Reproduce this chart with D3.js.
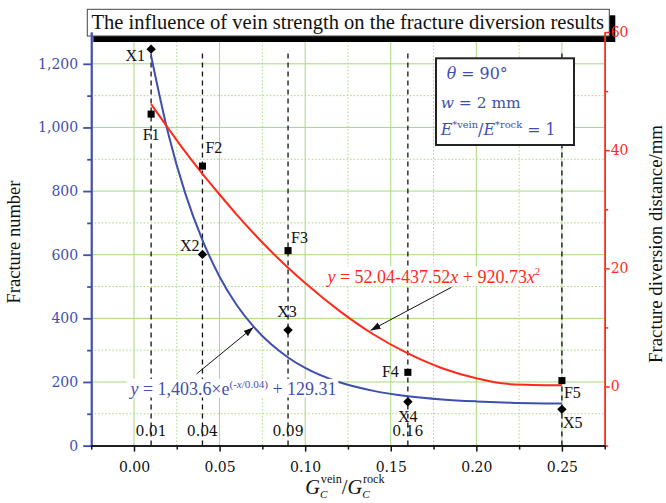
<!DOCTYPE html>
<html>
<head>
<meta charset="utf-8">
<script src="https://cdn.jsdelivr.net/npm/d3@7"></script>
<style>
  body { margin: 0; background: #fff; }
  svg { display: block; }
</style>
</head>
<body>
<script>
// ---- data ----
const xTicks = [0, 0.05, 0.10, 0.15, 0.20, 0.25];
const xMinor = [-0.025, 0.025, 0.075, 0.125, 0.175, 0.225, 0.275];
const yLeftTicks = [0, 200, 400, 600, 800, 1000, 1200];
const yLeftMinor = [100, 300, 500, 700, 900, 1100];
const yRightTicks = [0, 20, 40, 60];
const yRightMinor = [-10, 10, 30, 50];

const ratio = [0.01, 0.04, 0.09, 0.16, 0.25];
const ratioLabels = ['0.01', '0.04', '0.09', '0.16', ''];
const fracNames = ['X1', 'X2', 'X3', 'X4', 'X5'];
const fracNumber = [1246, 601, 363, 138, 114];
const divNames = ['F1', 'F2', 'F3', 'F4', 'F5'];
const divDistance = [46.1, 37.3, 23.0, 2.4, 1.0];

// fitted curves
const fitX = [0.01, 0.02, 0.03, 0.04, 0.05, 0.06, 0.07, 0.08, 0.09, 0.10, 0.12, 0.14, 0.16, 0.18, 0.20, 0.22, 0.25];
const fitNumber = [1225, 981, 792, 646, 531, 442, 373, 319, 277, 244, 199, 172, 155, 145, 139, 135, 132];
const fitDistance = [47.8, 43.7, 39.7, 36.0, 32.5, 29.1, 25.9, 22.9, 20.1, 17.5, 12.8, 8.8, 5.6, 3.1, 1.4, 0.4, 0.2];

const BLUE = '#3f4fb0';
const RED = '#ff2a1a';
const GREEN = '#a6d97c';
const SERIF = '"Liberation Serif", "Times New Roman", serif';
const NUMF = '"DejaVu Serif", serif';

const width = 666, height = 503;

let svg = d3.select('body')
  .append('svg')
  .attr('width', width)
  .attr('height', height)
  .style('font-family', NUMF);

let x = d3.scaleLinear().domain([-0.025, 0.275]).range([91.2, 604.7]);
let yL = d3.scaleLinear().domain([0, 1300]).range([445.6, 32]);
let yR = d3.scaleLinear().domain([-10, 60]).range([445.6, 32]);

function fit(t, w) {
  let fs = parseFloat(t.attr('font-size'));
  let bw = t.node().getBBox().width;
  t.attr('font-size', (fs * w / bw).toFixed(2));
}

// grid
let grid = svg.append('g');
grid.selectAll('line.gx').data(xTicks).join('line').attr('class', 'gx')
  .attr('x1', d => x(d)).attr('x2', d => x(d))
  .attr('y1', yL(0)).attr('y2', yL(1300))
  .attr('stroke', GREEN).attr('stroke-width', 1);
grid.selectAll('line.gxm').data(xMinor.slice(1, -1)).join('line').attr('class', 'gxm')
  .attr('x1', d => x(d)).attr('x2', d => x(d))
  .attr('y1', yL(0)).attr('y2', yL(1300))
  .attr('stroke', GREEN).attr('stroke-width', 1).attr('stroke-dasharray', '1.5,2');
grid.selectAll('line.gy').data(yLeftTicks.slice(1)).join('line').attr('class', 'gy')
  .attr('x1', x(-0.025)).attr('x2', x(0.275))
  .attr('y1', d => yL(d)).attr('y2', d => yL(d))
  .attr('stroke', GREEN).attr('stroke-width', 1);
grid.selectAll('line.gym').data(yLeftMinor).join('line').attr('class', 'gym')
  .attr('x1', x(-0.025)).attr('x2', x(0.275))
  .attr('y1', d => yL(d)).attr('y2', d => yL(d))
  .attr('stroke', GREEN).attr('stroke-width', 1).attr('stroke-dasharray', '1.5,2');

// dashed guides at the tested ratios
svg.selectAll('line.guide').data(ratio).join('line').attr('class', 'guide')
  .attr('x1', d => x(d)).attr('x2', d => x(d))
  .attr('y1', yL(0)).attr('y2', yL(1245))
  .attr('stroke', '#111').attr('stroke-width', 1.3).attr('stroke-dasharray', '5,4');
svg.selectAll('text.guide').data(ratio).join('text').attr('class', 'guide')
  .attr('x', d => x(d)).attr('y', yL(0) - 9.5)
  .attr('text-anchor', 'middle').attr('font-size', 14).attr('fill', '#111')
  .text((d, i) => ratioLabels[i]);

// fitted curves
let blueLine = d3.line().x((d, i) => x(fitX[i])).y(d => yL(d)).curve(d3.curveMonotoneX);
let redLine = d3.line().x((d, i) => x(fitX[i])).y(d => yR(d)).curve(d3.curveMonotoneX);
svg.append('path').attr('d', blueLine(fitNumber))
  .attr('fill', 'none').attr('stroke', BLUE).attr('stroke-width', 2);
svg.append('path').attr('d', redLine(fitDistance))
  .attr('fill', 'none').attr('stroke', RED).attr('stroke-width', 2);

// markers
svg.selectAll('path.sq').data(divDistance).join('path').attr('class', 'sq')
  .attr('d', d3.symbol(d3.symbolSquare, 50))
  .attr('transform', (d, i) => `translate(${x(ratio[i])},${yR(d)})`)
  .attr('fill', '#000');
svg.selectAll('path.dm').data(fracNumber).join('path').attr('class', 'dm')
  .attr('d', d3.symbol(d3.symbolSquare, 44))
  .attr('transform', (d, i) => `translate(${x(ratio[i])},${yL(d)}) rotate(45)`)
  .attr('fill', '#000');

// point labels
const fracLab = [
  { dx: -6, dy: 11.5, a: 'end' }, { dx: -3, dy: -3, a: 'end' }, { dx: -1, dy: -13, a: 'middle' },
  { dx: 0, dy: 20, a: 'middle' }, { dx: 1, dy: 18.5, a: 'start' }
];
const divLab = [
  { dx: 0, dy: 26, a: 'middle' }, { dx: 3, dy: -13, a: 'start' }, { dx: 3, dy: -8, a: 'start' },
  { dx: -9, dy: 4.5, a: 'end' }, { dx: 2, dy: 17.5, a: 'start' }
];
svg.selectAll('text.xl').data(fracNumber).join('text').attr('class', 'xl')
  .attr('x', (d, i) => x(ratio[i]) + fracLab[i].dx)
  .attr('y', (d, i) => yL(d) + fracLab[i].dy)
  .attr('text-anchor', (d, i) => fracLab[i].a)
  .attr('font-family', SERIF).attr('font-size', 16).attr('fill', '#111')
  .text((d, i) => fracNames[i]);
svg.selectAll('text.fl').data(divDistance).join('text').attr('class', 'fl')
  .attr('x', (d, i) => x(ratio[i]) + divLab[i].dx)
  .attr('y', (d, i) => yR(d) + divLab[i].dy)
  .attr('text-anchor', (d, i) => divLab[i].a)
  .attr('font-family', SERIF).attr('font-size', 16).attr('fill', '#111')
  .text((d, i) => divNames[i]);

// equations with arrows
let defs = svg.append('defs');
defs.append('marker').attr('id', 'ah').attr('viewBox', '0 0 10 10')
  .attr('refX', 10).attr('refY', 5).attr('markerWidth', 10).attr('markerHeight', 10)
  .attr('markerUnits', 'userSpaceOnUse').attr('orient', 'auto')
  .append('path').attr('d', 'M0,1.5L10,5L0,8.5Z').attr('fill', '#111');

function eqText(px, py, color, w, build) {
  let g = svg.append('g');
  let t = g.append('text').attr('x', px).attr('y', py)
    .attr('font-family', SERIF).attr('font-size', 17).attr('fill', color);
  build(t);
  fit(t, w);
  let b = t.node().getBBox();
  g.insert('rect', 'text').attr('x', b.x - 2).attr('y', b.y + 1)
    .attr('width', b.width + 4).attr('height', b.height - 2).attr('fill', '#fff');
}

svg.append('line')
  .attr('x1', x(0.1855)).attr('y1', yR(16.8)).attr('x2', x(0.1382)).attr('y2', yR(9.5))
  .attr('stroke', '#111').attr('stroke-width', 1).attr('marker-end', 'url(#ah)');
eqText(x(0.113), yR(17.5), RED, 215, t => {
  t.append('tspan').attr('font-style', 'italic').text('y');
  t.append('tspan').text(' = 52.04-437.52');
  t.append('tspan').attr('font-style', 'italic').text('x');
  t.append('tspan').text(' + 920.73');
  t.append('tspan').attr('font-style', 'italic').text('x');
  t.append('tspan').attr('font-size', '0.6em').attr('baseline-shift', '70%').text('2');
});

svg.append('line')
  .attr('x1', x(0.0365)).attr('y1', yL(225)).attr('x2', x(0.0698)).attr('y2', yL(372))
  .attr('stroke', '#111').attr('stroke-width', 1).attr('marker-end', 'url(#ah)');
eqText(x(-0.002), yL(160.6), BLUE, 208, t => {
  t.append('tspan').attr('font-style', 'italic').text('y');
  t.append('tspan').text(' = 1,403.6×e');
  let s = t.append('tspan').attr('font-size', '0.62em').attr('baseline-shift', '60%');
  s.append('tspan').text('(-');
  s.append('tspan').attr('font-style', 'italic').text('x');
  s.append('tspan').text('/0.04)');
  t.append('tspan').text(' + 129.31');
});

// title box
svg.append('rect').attr('x', 93.3).attr('y', 15.3).attr('width', 522).attr('height', 26.7).attr('fill', '#000');
svg.append('rect').attr('x', 87.3).attr('y', 9.3).attr('width', 522).attr('height', 26.7)
  .attr('fill', '#fff').attr('stroke', '#444').attr('stroke-width', 1);
let title = svg.append('text').attr('x', 91.5).attr('y', 29.3)
  .attr('font-family', SERIF).attr('font-size', 20).attr('fill', '#111')
  .text('The influence of vein strength on the fracture diversion results');
fit(title, 513);

// axes
function styleAxis(g, color, sw) {
  g.selectAll('path, line').attr('stroke', color).attr('stroke-width', sw);
  g.selectAll('text').attr('fill', color).attr('font-size', 14).attr('font-family', NUMF);
}
let axL = svg.append('g').attr('transform', `translate(${x(-0.025)},0)`);
axL.append('g').call(d3.axisLeft(yL).tickValues(yLeftMinor).tickSize(4).tickFormat('').tickSizeOuter(0));
axL.append('g').call(d3.axisLeft(yL).tickValues(yLeftTicks).tickSize(8).tickPadding(5)
  .tickFormat(d3.format(',')).tickSizeOuter(0));
styleAxis(axL, BLUE, 1.8);

let axR = svg.append('g').attr('transform', `translate(${x(0.275)},0)`);
axR.append('g').call(d3.axisRight(yR).tickValues(yRightMinor).tickSize(3.5).tickFormat('').tickSizeOuter(0));
axR.append('g').call(d3.axisRight(yR).tickValues(yRightTicks).tickSize(5).tickPadding(1).tickSizeOuter(0));
styleAxis(axR, RED, 1.5);

let axB = svg.append('g').attr('transform', `translate(0,${yL(0)})`);
axB.append('g').call(d3.axisBottom(x).tickValues(xMinor).tickSize(4).tickFormat('').tickSizeOuter(0));
axB.append('g').call(d3.axisBottom(x).tickValues(xTicks).tickSize(6).tickPadding(10)
  .tickFormat(d3.format('.2f')).tickSizeOuter(0));
styleAxis(axB, '#111', 1.5);

// axis titles
let tl = svg.append('text').attr('transform', 'translate(20,242) rotate(-90)')
  .attr('text-anchor', 'middle').attr('font-family', SERIF).attr('font-size', 18).attr('fill', '#111')
  .text('Fracture number');
fit(tl, 123);
let tr = svg.append('text').attr('transform', 'translate(662,244) rotate(-90)')
  .attr('text-anchor', 'middle').attr('font-family', SERIF).attr('font-size', 18).attr('fill', '#111')
  .text('Fracture diversion distance/mm');
fit(tr, 238);
let tb = svg.append('text').attr('x', 345).attr('y', 494)
  .attr('text-anchor', 'middle').attr('font-family', SERIF).attr('font-size', 18).attr('fill', '#111');
[['vein'], ['rock']].forEach((s, k) => {
  if (k) tb.append('tspan').text('/');
  tb.append('tspan').attr('font-style', 'italic').text('G');
  tb.append('tspan').attr('font-style', 'italic').attr('font-size', '0.55em').attr('baseline-shift', '-40%').text('C');
  tb.append('tspan').attr('font-size', '0.6em').attr('dx', '-0.55em').attr('baseline-shift', '95%').text(s[0]);
});
fit(tb, 80);

// parameter box
svg.append('rect').attr('x', 436).attr('y', 58.3).attr('width', 138).attr('height', 86.7)
  .attr('fill', '#fff').attr('stroke', '#222').attr('stroke-width', 2);
let p1 = svg.append('text').attr('x', 446.7).attr('y', 79.3).attr('font-size', 16).attr('fill', BLUE);
p1.append('tspan').attr('font-style', 'italic').text('θ');
p1.append('tspan').text(' = 90°');
fit(p1, 61);
let p2 = svg.append('text').attr('x', 440.7).attr('y', 108.3).attr('font-size', 16).attr('fill', BLUE);
p2.append('tspan').attr('font-style', 'italic').text('w');
p2.append('tspan').text(' = 2 mm');
fit(p2, 80);
let p3 = svg.append('text').attr('x', 440.7).attr('y', 135).attr('font-size', 16).attr('fill', BLUE);
p3.append('tspan').attr('font-style', 'italic').text('E');
p3.append('tspan').attr('font-size', '0.62em').attr('baseline-shift', '70%').text('*vein');
p3.append('tspan').text('/');
p3.append('tspan').attr('font-style', 'italic').text('E');
p3.append('tspan').attr('font-size', '0.62em').attr('baseline-shift', '70%').text('*rock');
p3.append('tspan').text(' = 1');
fit(p3, 116);
</script>
</body>
</html>
